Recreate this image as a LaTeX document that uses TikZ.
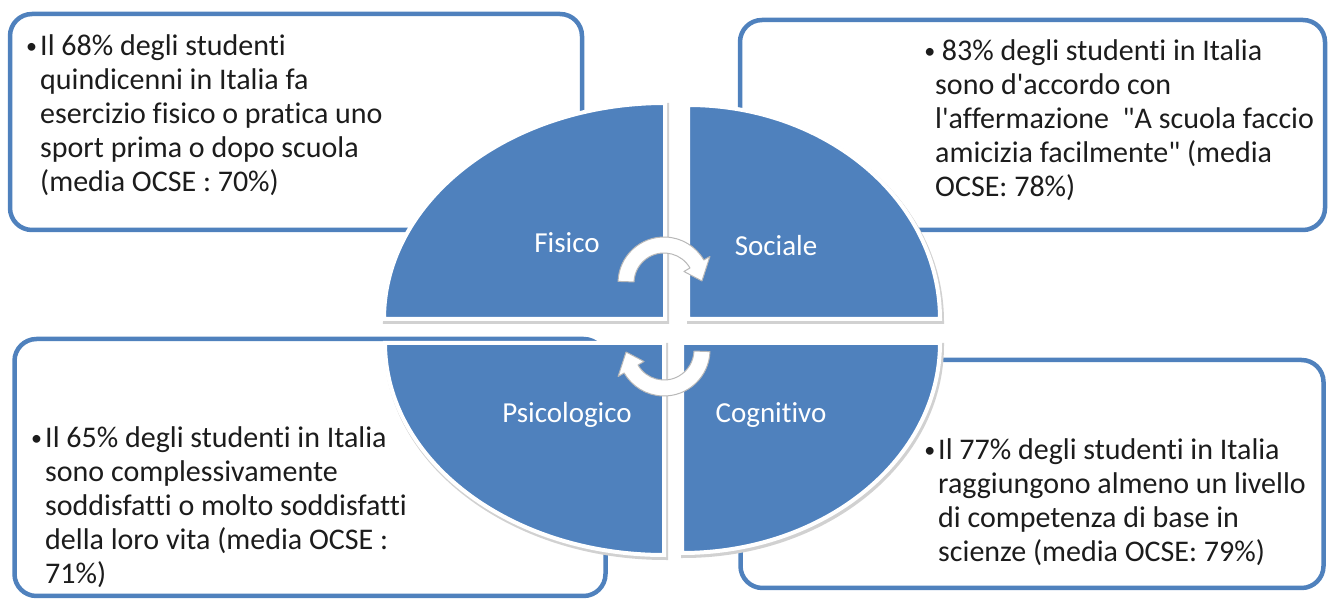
\documentclass[tikz,border=0pt]{standalone}
\usepackage{fontspec}
\newfontfamily\calfont{Carlito}[Ligatures=NoCommon]
\definecolor{boxblue}{HTML}{4F81BD}
\definecolor{quadblue}{HTML}{4F81BD}
\definecolor{bodyink}{HTML}{1C1C1C}
\newcommand{\smbul}{{\fontsize{22}{22}\selectfont\raisebox{1.5pt}{•}}}
\begin{document}
\begin{tikzpicture}[x=1pt,y=1pt,
  infobox/.style={draw=boxblue, line width=4.5pt, rounded corners=22pt, fill=white, inner sep=0pt},
  quad/.style={fill=quadblue, draw=white, line width=4pt},
  quadshadow/.style={fill=black!18, draw=black!18, line width=5pt},
  bodytext/.style={font=\calfont\fontsize{30}{34}\selectfont, align=left, anchor=north west, inner sep=0pt, text=bodyink},
  quadlabel/.style={font=\calfont\fontsize{29}{32}\selectfont, text=white, inner sep=0pt},
  cyclearrow/.style={fill=white, draw=black!28, line width=1pt, line join=round}
]
\useasboundingbox (0,0) rectangle (1328,599);

% info boxes
\node[infobox, minimum width=572pt, minimum height=216pt] (boxFis) at (296,477) {};
\node[infobox, minimum width=585pt, minimum height=210pt] (boxSoc) at (1032.5,474) {};
\node[infobox, minimum width=591pt, minimum height=257pt] (boxPsi) at (310,131.5) {};
\node[infobox, minimum width=583pt, minimum height=228pt] (boxCog) at (1032,125) {};

% quadrant shadows
\begin{scope}[shift={(1.5,-2.5)}]
\fill[quadshadow] (665,280) -- (384,280) arc[start angle=180,end angle=90,x radius=281,y radius=216] -- cycle;
\fill[quadshadow] (688,280) -- (688,494) arc[start angle=90,end angle=0,x radius=252,y radius=214] -- cycle;
\fill[quadshadow] (664,256) -- (385,256) arc[start angle=180,end angle=270,x radius=279,y radius=212] -- cycle;
\fill[quadshadow] (682,256) -- (940,256) arc[start angle=0,end angle=-90,x radius=258,y radius=210] -- cycle;
\end{scope}
% quadrants
\path[quad] (665,280) -- (384,280) arc[start angle=180,end angle=90,x radius=281,y radius=216] -- cycle;
\path[quad] (688,280) -- (688,494) arc[start angle=90,end angle=0,x radius=252,y radius=214] -- cycle;
\path[quad] (664,256) -- (385,256) arc[start angle=180,end angle=270,x radius=279,y radius=212] -- cycle;
\path[quad] (682,256) -- (940,256) arc[start angle=0,end angle=-90,x radius=258,y radius=210] -- cycle;

% cycle arrows
\begin{scope}[shift={(664,316)}]
\draw[cyclearrow] (178:46) arc[start angle=178,end angle=30,radius=46] -- (30:53) -- (3:38) -- (30:23) -- (30:30) arc[start angle=30,end angle=178,radius=30] -- cycle;
\end{scope}
\begin{scope}[shift={(664,249)}]
\draw[cyclearrow] (-2:46) arc[start angle=-2,end angle=-150,radius=46] -- (-150:53) -- (-177:38) -- (-150:23) -- (-150:30) arc[start angle=-150,end angle=-2,radius=30] -- cycle;
\end{scope}

% quadrant labels
\node[quadlabel] (lblFis) at (567,356) {Fisico};
\node[quadlabel] (lblSoc) at (776,353) {Sociale};
\node[quadlabel] (lblPsi) at (567,184) {Psicologico};
\node[quadlabel] (lblCog) at (771,184) {Cognitivo};

% box texts
\node[bodytext] (txtFis) at (40,565) {\llap{\smbul\hspace{3pt}}Il 68\% degli studenti\\quindicenni in Italia fa\\esercizio fisico o pratica uno\\sport prima o dopo scuola\\(media OCSE : 70\%)};
\node[bodytext] (txtSoc) at (935,560) {\llap{\smbul}\ 83\% degli studenti in Italia\\sono d'accordo con\\l'affermazione \ "A scuola faccio\\amicizia facilmente" (media\\OCSE: 78\%)};
\node[bodytext] (txtPsi) at (45,173) {\llap{\smbul\hspace{3pt}}Il 65\% degli studenti in Italia\\sono complessivamente\\soddisfatti o molto soddisfatti\\della loro vita (media OCSE :\\71\%)};
\node[bodytext] (txtCog) at (938,161) {\llap{\smbul\hspace{3pt}}Il 77\% degli studenti in Italia\\raggiungono almeno un livello\\di competenza di base in\\scienze (media OCSE: 79\%)};
\end{tikzpicture}
\end{document}
